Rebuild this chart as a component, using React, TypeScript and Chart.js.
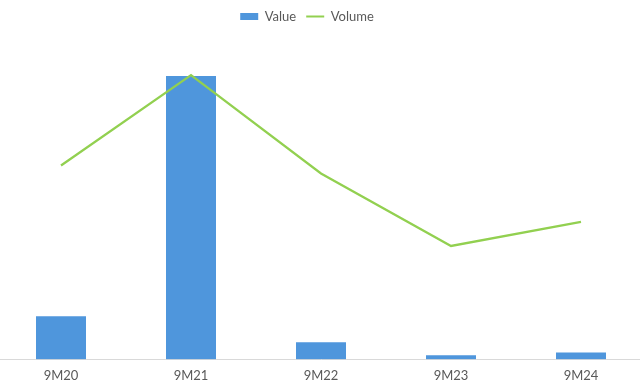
import React, { useEffect, useRef } from "react";
import { Chart, registerables } from "chart.js";

Chart.register(...registerables);

const categories = ["9M20", "9M21", "9M22", "9M23", "9M24"];
const valueSeries = [15.5, 100, 6.4, 1.8, 2.8];
const volumeSeries = [68.2, 100, 65.4, 39.9, 48.4];
const axisMax = 114.8;

const legendShift = {
  id: "legendShift",
  afterLayout(chart: any) {
    const lg = chart.legend;
    if (lg) {
      lg.left -= 14;
      lg.right -= 14;
    }
  },
};

export default function App() {
  const ref = useRef<HTMLCanvasElement | null>(null);
  useEffect(() => {
    if (!ref.current) return;
    const font = { family: "Lato", size: 13 };
    const chart = new Chart(ref.current, {
      type: "bar",
      data: {
        labels: categories,
        datasets: [
          {
            type: "bar",
            label: "Value",
            data: valueSeries,
            backgroundColor: "#4F96DC",
            borderColor: "#ffffff",
            borderWidth: 1,
            categoryPercentage: 1,
            barPercentage: 0.4,
            yAxisID: "y",
            order: 2,
          },
          {
            type: "line",
            label: "Volume",
            data: volumeSeries,
            borderColor: "#92D050",
            backgroundColor: "#92D050",
            borderWidth: 2.25,
            pointRadius: 0,
            tension: 0,
            yAxisID: "y2",
            order: 1,
          },
        ] as any,
      },
      plugins: [legendShift],
      options: {
        animation: false,
        responsive: true,
        maintainAspectRatio: false,
        layout: { padding: { top: 0, left: 0, right: 0, bottom: 0 } },
        plugins: {
          tooltip: { enabled: false },
          legend: {
            position: "top",
            labels: {
              color: "#595959",
              font,
              usePointStyle: true,
              pointStyleWidth: 18,
              boxHeight: 7,
              padding: 10,
              sort: (a: any, b: any) => a.datasetIndex - b.datasetIndex,
              generateLabels(chart: any) {
                const items = Chart.defaults.plugins.legend.labels.generateLabels(chart);
                return items.map((it: any) => {
                  const isBar = it.datasetIndex === 0;
                  return {
                    ...it,
                    pointStyle: isBar ? "rect" : "line",
                    lineWidth: isBar ? 0 : 2,
                    strokeStyle: isBar ? "#4F96DC" : "#92D050",
                    fillStyle: isBar ? "#4F96DC" : "#92D050",
                  };
                });
              },
            },
          },
        },
        scales: {
          x: {
            offset: true,
            grid: { display: false, drawTicks: false },
            border: { display: true, color: "#d9d9d9", width: 1 },
            ticks: { color: "#595959", font, padding: 9 },
          },
          y: { display: false, min: 0, max: axisMax },
          y2: { display: false, min: 0, max: axisMax },
        },
      } as any,
    });
    return () => chart.destroy();
  }, []);
  return (
    <div style={{ position: "fixed", left: 0, top: 0, width: 640, height: 389, overflow: "hidden", background: "#fff" }}>
      <div style={{ position: "absolute", left: -4, top: 0, width: 650, height: 393 }}>
        <canvas ref={ref} />
      </div>
    </div>
  );
}
